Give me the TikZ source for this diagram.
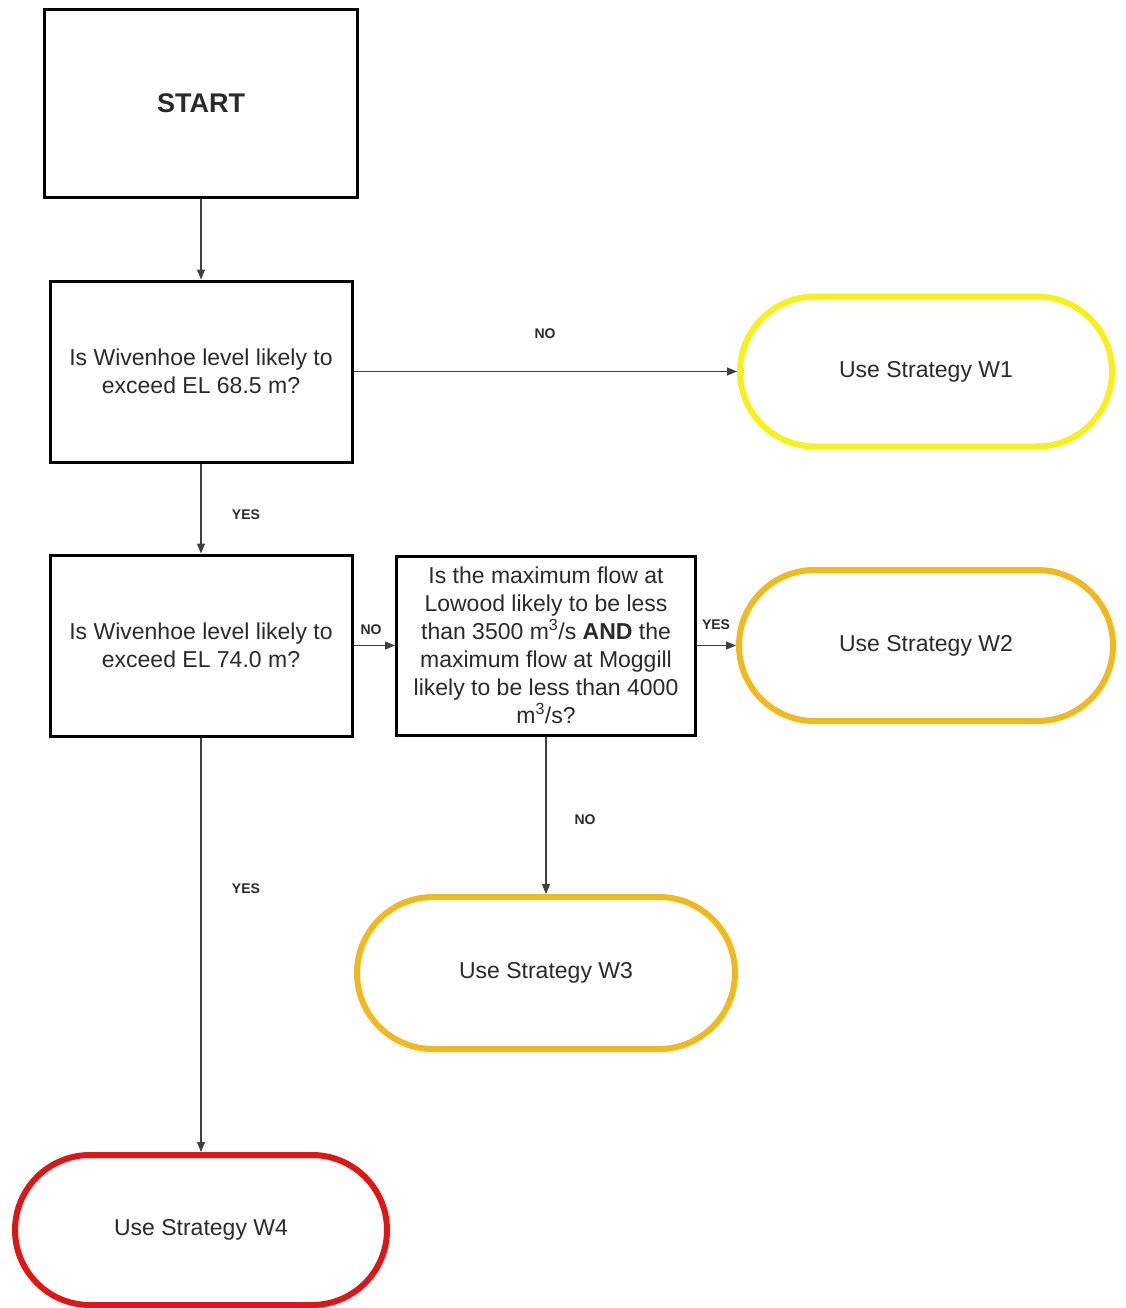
\documentclass[tikz,border=0pt]{standalone}
\usepackage{fontspec}
\setmainfont{Liberation Sans}
\usetikzlibrary{shapes.misc,arrows.meta}
\definecolor{txt}{HTML}{2A2A2A}
\definecolor{yel}{HTML}{F7F01C}
\definecolor{gold}{HTML}{F0B91E}
\definecolor{redc}{HTML}{E01515}
\begin{document}
\begin{tikzpicture}[x=1pt,y=-1pt,
  box/.style={draw=black,line width=3pt,fill=white,text=txt,align=center,inner sep=0pt,
    font=\fontsize{23}{28}\selectfont},
  term/.style={rounded rectangle,line width=6pt,fill=white,text=txt,inner sep=0pt,
    font=\fontsize{23}{28}\selectfont},
  conn/.style={draw=black!75,line width=1.2pt,-{Triangle[length=10pt,width=8pt]}},
  lbl/.style={font=\bfseries\fontsize{14}{16}\selectfont,text=txt,inner sep=0pt}]
\useasboundingbox[fill=white] (0,0) rectangle (1126,1308);
\node[box,minimum width=313pt,minimum height=187pt,font=\bfseries\fontsize{27}{30}\selectfont] (start) at (201,103.5) {START};
\node[box,minimum width=302pt,minimum height=181pt] (q1) at (201,371.5) {Is Wivenhoe level likely to\\exceed EL 68.5 m?};
\node[box,minimum width=302pt,minimum height=181pt] (q2) at (201,645.5) {Is Wivenhoe level likely to\\exceed EL 74.0 m?};
\node[box,minimum width=299pt,minimum height=179pt] (q3) at (546,645.5) {Is the maximum flow at\\Lowood likely to be less\\than 3500 m\textsuperscript{3}/s \textbf{AND} the\\maximum flow at Moggill\\likely to be less than 4000\\m\textsuperscript{3}/s?};
\node[term,draw=yel,minimum width=372pt,minimum height=150pt] (w1) at (926,371.5) {Use Strategy W1};
\node[term,draw=gold,minimum width=374pt,minimum height=151pt] (w2) at (926,645.5) {Use Strategy W2};
\node[term,draw=gold,minimum width=378pt,minimum height=152pt] (w3) at (546,973) {Use Strategy W3};
\node[term,draw=redc,minimum width=372pt,minimum height=150pt] (w4) at (201,1230) {Use Strategy W4};
\draw[conn] (start.south) -- (q1.north);
\draw[conn] (q1.east) -- (w1.west);
\draw[conn] (q1.south) -- (q2.north);
\draw[conn] (q2.east) -- (q3.west);
\draw[conn] (q3.east) -- (w2.west);
\draw[conn] (q3.south) -- (w3.north);
\draw[conn] (q2.south) -- (w4.north);
\node[lbl] (l1) at (545,334) {NO};
\node[lbl] (l2) at (246,515) {YES};
\node[lbl] (l3) at (371,630) {NO};
\node[lbl] (l4) at (716,625) {YES};
\node[lbl] (l5) at (585,820) {NO};
\node[lbl] (l6) at (246,889) {YES};
\end{tikzpicture}
\end{document}
